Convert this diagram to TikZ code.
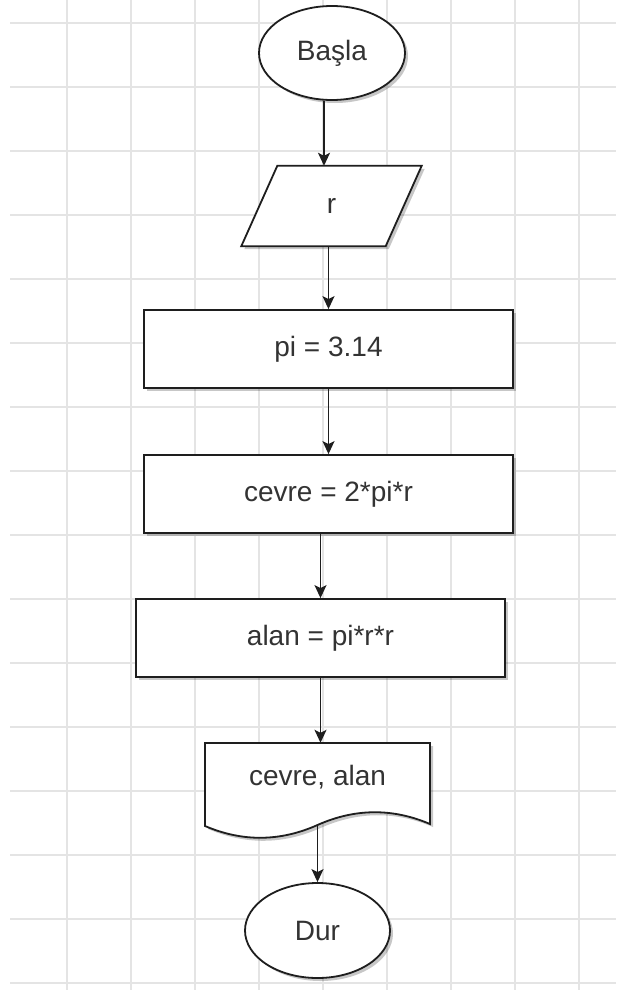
\documentclass[tikz,border=0pt]{standalone}
\usepackage{fontspec}
\setmainfont{Liberation Sans}
\usepackage{xcolor}
\usetikzlibrary{shapes.geometric,shadows,arrows.meta}

\definecolor{gridgray}{HTML}{E4E4E4}
\definecolor{inkgray}{HTML}{333333}
\definecolor{edgegray}{HTML}{1E1E1E}

\begin{document}
\begin{tikzpicture}[x=1pt, y=-1pt,
 font=\fontsize{28}{32}\selectfont, text=inkgray,
 gridline/.style={draw=gridgray, line width=1.2pt},
 boxshadow/.style={drop shadow={shadow xshift=3pt, shadow yshift=-3pt, opacity=0.22, fill=black}},
 terminal/.style={ellipse, draw=edgegray, line width=1.8pt, fill=white, boxshadow, inner sep=0pt, minimum width=146pt, minimum height=94pt},
 procbox/.style={rectangle, draw=edgegray, line width=1.8pt, fill=white, boxshadow, inner sep=0pt, minimum width=369pt, minimum height=78pt},
 flow/.style={draw=edgegray, line width=1.6pt, -{Stealth[length=13pt, width=12pt, inset=3pt]}}]
 \fill[white] (0,0) rectangle (616,990);
 \useasboundingbox (0,0) rectangle (616,990);
 \foreach \gx in {67,131,...,579} \draw[gridline] (\gx,0) -- (\gx,990);
 \foreach \gy in {23,87,...,983} \draw[gridline] (10,\gy) -- (616,\gy);

 \node[terminal] (BASLA) at (332, 53) {Başla};
 \node[minimum width=144pt, minimum height=80pt, inner sep=0pt] (GIRDI) at (331.5, 206) {};
 \draw[draw=edgegray, line width=1.8pt, fill=white, boxshadow]
   ([xshift=18pt]GIRDI.north west) -- ([xshift=18pt]GIRDI.north east)
   -- ([xshift=-18pt]GIRDI.south east) -- ([xshift=-18pt]GIRDI.south west) -- cycle;
 \node at (GIRDI) {r};
 \node[procbox] (PI) at (328.5, 349) {pi = 3.14};
 \node[procbox] (CEVRE) at (328.5, 494) {cevre = 2*pi*r};
 \node[procbox] (ALAN) at (320.5, 638) {alan = pi*r*r};
 \draw[draw=edgegray, line width=1.8pt, fill=white, boxshadow]
   (205,743) -- (430,743) -- (430,824)
   .. controls (392.5,808) and (355,808.3) .. (317.5,825)
   .. controls (280,841.7) and (242.5,842) .. (205,826) -- cycle;
 \node[minimum width=225pt, minimum height=68pt, inner sep=0pt] (CIKTI) at (317.5, 777) {cevre, alan};
 \node[terminal, minimum width=145pt, minimum height=95pt] (DUR) at (317.5, 930.5) {Dur};

 \draw[flow] ([xshift=-8pt]BASLA.south) -- ([xshift=-8pt]BASLA.south |- GIRDI.north);
 \draw[flow] (GIRDI.south -| PI.north) -- (PI.north);
 \draw[flow] (PI.south) -- (CEVRE.north);
 \draw[flow] (CEVRE.south -| ALAN.north) -- (ALAN.north);
 \draw[flow] (ALAN.south) -- (ALAN.south |- CIKTI.north);
 \draw[flow] ([yshift=-14pt]CIKTI.south) -- (DUR.north);
\end{tikzpicture}
\end{document}
